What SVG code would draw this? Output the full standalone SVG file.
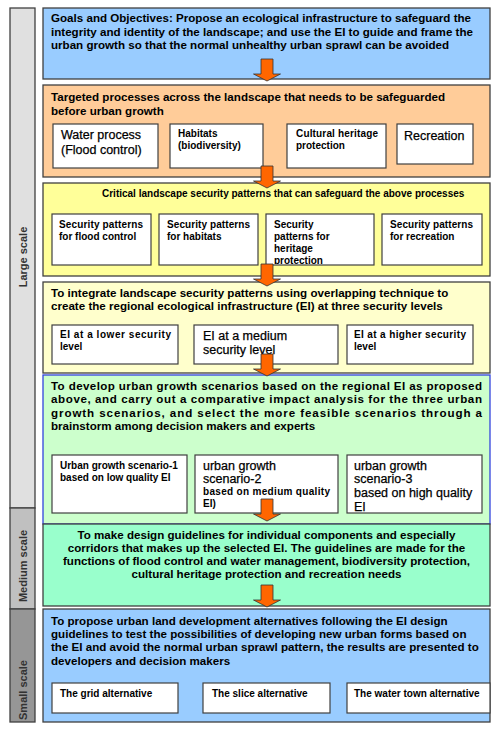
<svg xmlns="http://www.w3.org/2000/svg" width="500" height="731" viewBox="0 0 500 731">
<style>
text{font-family:"Liberation Sans",Arial,sans-serif;fill:#000}
.b{font-weight:bold;font-size:11.6px}
.s{font-weight:bold;font-size:10px}
.r{font-size:12.5px;stroke:#000;stroke-width:0.25}
.box{stroke:#404040;stroke-width:1.3}
.in{fill:#fff;stroke:#404040;stroke-width:1.2}
.side{stroke:#404040;stroke-width:1.3}
.lbl{font-weight:bold;font-size:11px;fill:#333;text-anchor:middle}
.arrow{fill:#ff6600;stroke:#333;stroke-width:0.8}
</style>
<defs>
<path id="arr" d="M-6,0 H6 V15 H13.5 L0,22 L-13.5,15 H-6 Z"/>
<clipPath id="cG"><rect x="266" y="214" width="108" height="50"/></clipPath>
<clipPath id="cN"><rect x="347" y="455" width="135" height="57.5"/></clipPath>
</defs>
<rect width="500" height="731" fill="#fff"/>

<g id="side">
<rect class="side" x="10" y="8" width="25" height="500" fill="#e0e0e0"/>
<rect class="side" x="10" y="508" width="25" height="101" fill="#c0c0c0"/>
<rect class="side" x="10" y="609" width="25" height="113" fill="#969696"/>
<text class="lbl" transform="translate(27,257) rotate(-90)">Large scale</text>
<text class="lbl" transform="translate(27,566) rotate(-90)">Medium scale</text>
<text class="lbl" transform="translate(27,690) rotate(-90)">Small scale</text>
</g>

<g id="goals">
<rect class="box" x="43" y="8" width="447" height="71" fill="#99ccff"/>
<text class="b" x="51" y="22">Goals and Objectives: Propose an ecological infrastructure to safeguard the</text>
<text class="b" x="51" y="35.5">integrity and identity of the landscape; and use the EI to guide and frame the</text>
<text class="b" x="51" y="49">urban growth so that the normal unhealthy urban sprawl can be avoided</text>
</g>

<g id="processes">
<rect class="box" x="43" y="85" width="447" height="92" fill="#ffcc99"/>
<text class="b" x="51" y="101">Targeted processes across the landscape that needs to be safeguarded</text>
<text class="b" x="51" y="115">before urban growth</text>
<g id="water"><rect class="in" x="53" y="124" width="105" height="44"/>
<text class="r" x="61" y="139">Water process</text><text class="r" x="61" y="154">(Flood control)</text></g>
<g id="habitats"><rect class="in" x="170" y="124" width="93" height="44"/>
<text class="s" x="178" y="137">Habitats</text><text class="s" x="178" y="149">(biodiversity)</text></g>
<g id="heritage"><rect class="in" x="287" y="124" width="99" height="44"/>
<text class="s" x="296" y="137" textLength="82" lengthAdjust="spacing">Cultural  heritage</text><text class="s" x="296" y="149">protection</text></g>
<g id="recreation"><rect class="in" x="397" y="124" width="76" height="40"/>
<text class="r" x="404" y="140">Recreation</text></g>
</g>

<g id="patterns">
<rect class="box" x="43" y="183" width="447" height="93" fill="#ffff99"/>
<text class="s" x="102" y="197">Critical landscape security patterns that can safeguard the above processes</text>
<g id="sp-flood"><rect class="in" x="52" y="214" width="99" height="51"/>
<text class="s" x="59" y="228" textLength="84" lengthAdjust="spacing">Security  patterns</text><text class="s" x="59" y="240">for flood control</text></g>
<g id="sp-habitats"><rect class="in" x="159" y="214" width="99" height="51"/>
<text class="s" x="167" y="228" textLength="83" lengthAdjust="spacing">Security  patterns</text><text class="s" x="167" y="240">for habitats</text></g>
<g id="sp-heritage"><rect class="in" x="266" y="214" width="108" height="51"/>
<g clip-path="url(#cG)"><text class="s" x="274" y="228">Security</text><text class="s" x="274" y="240">patterns for</text><text class="s" x="274" y="252">heritage</text><text class="s" x="274" y="264">protection</text></g></g>
<g id="sp-recreation"><rect class="in" x="382" y="214" width="100" height="51"/>
<text class="s" x="390" y="228" textLength="83" lengthAdjust="spacing">Security  patterns</text><text class="s" x="390" y="240">for recreation</text></g>
</g>

<g id="integrate">
<rect class="box" x="43" y="282" width="447" height="91" fill="#ffffcc"/>
<text class="b" x="51" y="297">To integrate landscape security patterns using overlapping technique to</text>
<text class="b" x="51" y="310">create the regional ecological infrastructure (EI) at three security levels</text>
<g id="ei-lower"><rect class="in" x="52" y="325" width="126" height="39"/>
<text class="s" x="60" y="338" textLength="111" lengthAdjust="spacing">EI at a lower security</text><text class="s" x="60" y="350">level</text></g>
<g id="ei-medium"><rect class="in" x="194" y="325" width="144" height="39"/>
<text class="r" x="203" y="340">EI at a medium</text><text class="r" x="203" y="354">security level</text></g>
<g id="ei-higher"><rect class="in" x="347" y="325" width="126" height="39"/>
<text class="s" x="354" y="338" textLength="112" lengthAdjust="spacing">EI at a higher security</text><text class="s" x="354" y="350">level</text></g>
</g>

<g id="scenarios">
<rect x="43" y="375" width="447" height="149" fill="#ccffcc" stroke="#3344dd" stroke-width="1.3"/>
<text class="b" x="51" y="390" textLength="431" lengthAdjust="spacing">To develop urban growth scenarios based on the regional EI as proposed</text>
<text class="b" x="51" y="403" textLength="431" lengthAdjust="spacing">above, and carry out a comparative impact analysis for the three urban</text>
<text class="b" x="51" y="417" textLength="431" lengthAdjust="spacing">growth scenarios, and select the more feasible scenarios through a</text>
<text class="b" x="51" y="430">brainstorm among decision makers and experts</text>
<g id="sc1"><rect class="in" x="52" y="455" width="135" height="58"/>
<text class="s" x="60" y="469">Urban growth scenario-1</text><text class="s" x="60" y="481">based on low quality EI</text></g>
<g id="sc2"><rect class="in" x="195" y="455" width="143" height="58"/>
<text class="r" x="203" y="470">urban growth</text><text class="r" x="203" y="483">scenario-2</text>
<text class="s" x="203" y="495" textLength="127" lengthAdjust="spacing">based on  medium quality</text><text class="s" x="203" y="507">EI)</text></g>
<g id="sc3"><rect class="in" x="347" y="455" width="135" height="58"/>
<g clip-path="url(#cN)"><text class="r" x="354" y="470">urban growth</text><text class="r" x="354" y="483">scenario-3</text>
<text class="r" x="354" y="497">based on high quality</text><text class="r" x="354" y="511">EI</text></g></g>
</g>

<g id="guidelines">
<rect class="box" x="43" y="524" width="447" height="82" fill="#99ffcc"/>
<text class="b" x="266.5" y="539" text-anchor="middle">To make design guidelines for individual components and especially</text>
<text class="b" x="266.5" y="552" text-anchor="middle">corridors that makes up the selected EI. The guidelines are made for the</text>
<text class="b" x="266.5" y="565" text-anchor="middle">functions of flood control and water management, biodiversity protection,</text>
<text class="b" x="266.5" y="578" text-anchor="middle">cultural heritage protection and recreation needs</text>
</g>

<g id="alternatives">
<rect class="box" x="43" y="609" width="447" height="113" fill="#99ccff"/>
<text class="b" x="51" y="625">To propose urban land development alternatives following the EI design</text>
<text class="b" x="51" y="638">guidelines to test the possibilities of developing new urban forms based on</text>
<text class="b" x="51" y="651">the EI and avoid the normal urban sprawl pattern, the results are presented to</text>
<text class="b" x="51" y="665">developers and decision makers</text>
<g id="grid"><rect class="in" x="52" y="683" width="126" height="30"/><text class="s" x="60" y="697">The grid alternative</text></g>
<g id="slice"><rect class="in" x="203" y="683" width="127" height="30"/><text class="s" x="212" y="697">The slice alternative</text></g>
<g id="watertown"><rect class="in" x="347" y="683" width="143" height="30"/><text class="s" x="354" y="697">The water town alternative</text></g>
</g>

<g id="connectors">
<use href="#arr" class="arrow" transform="translate(267,59)"/>
<use href="#arr" class="arrow" transform="translate(267,166)"/>
<use href="#arr" class="arrow" transform="translate(267,264)"/>
<use href="#arr" class="arrow" transform="translate(267,354)"/>
<use href="#arr" class="arrow" transform="translate(267,499)"/>
<use href="#arr" class="arrow" transform="translate(267,585)"/>
</g>
</svg>
